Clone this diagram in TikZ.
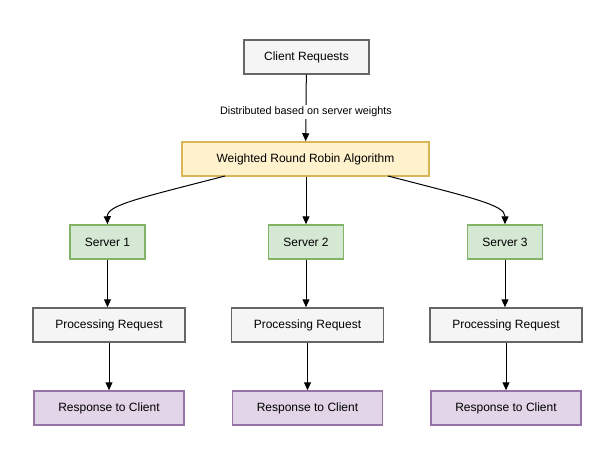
\documentclass[tikz,border=0pt]{standalone}
\usepackage{fontspec}
\setmainfont{Liberation Sans}
\usetikzlibrary{arrows.meta}
\definecolor{grayfill}{HTML}{F5F5F5}
\definecolor{graydraw}{HTML}{666666}
\definecolor{yelfill}{HTML}{FFF2CC}
\definecolor{yeldraw}{HTML}{D6B656}
\definecolor{grnfill}{HTML}{D5E8D4}
\definecolor{grndraw}{HTML}{82B366}
\definecolor{purfill}{HTML}{E1D5E7}
\definecolor{purdraw}{HTML}{9673A6}
\tikzset{
  box/.style={rectangle, line width=1.5pt, minimum height=34pt, inner sep=0pt, font=\fontsize{12}{14}\selectfont},
  graybox/.style={box, fill=grayfill, draw=graydraw},
  yelbox/.style={box, fill=yelfill, draw=yeldraw, minimum width=247pt},
  srvbox/.style={box, fill=grnfill, draw=grndraw, minimum width=75pt},
  procbox/.style={graybox, minimum width=152pt},
  respbox/.style={box, fill=purfill, draw=purdraw, minimum width=150pt},
  arr/.style={-{Triangle[length=8pt,width=7pt]}, line width=1pt, black},
  lbl/.style={fill=white, inner sep=2pt, font=\fontsize{10.8}{12}\selectfont}
}
\begin{document}
\begin{tikzpicture}[x=1pt,y=-1pt]
\useasboundingbox (0,0) rectangle (609,462);
\fill[white] (0,0) rectangle (609,462);
\node[graybox, minimum width=125pt] (client) at (306.5,57) {Client Requests};
\node[yelbox] (wrr) at (305.5,159) {Weighted Round Robin Algorithm};
\node[srvbox] (s1) at (107.5,242) {Server 1};
\node[srvbox] (s2) at (306,242) {Server 2};
\node[srvbox] (s3) at (505,242) {Server 3};
\node[procbox] (p1) at (109,325) {Processing Request};
\node[procbox] (p2) at (307.5,325) {Processing Request};
\node[procbox] (p3) at (506,325) {Processing Request};
\node[respbox] (r1) at (109,408) {Response to Client};
\node[respbox] (r2) at (307.5,408) {Response to Client};
\node[respbox] (r3) at (506,408) {Response to Client};
\coordinate (wl) at (225,176);
\coordinate (wr) at (388,176);
\draw[arr] (client) -- node[lbl, pos=0.56] {Distributed based on server weights} (wrr);
\draw[arr] (wl) .. controls (140,198) and (107,205) .. (s1.north);
\draw[arr] (wrr.south -| s2) -- (s2);
\draw[arr] (wr) .. controls (473,198) and (505,205) .. (s3.north);
\draw[arr] (s1.south) -- (p1.north -| s1.south);
\draw[arr] (s2) -- (p2.north -| s2);
\draw[arr] (s3) -- (p3.north -| s3);
\draw[arr] (p1) -- (r1);
\draw[arr] (p2) -- (r2);
\draw[arr] (p3) -- (r3);
\end{tikzpicture}
\end{document}
